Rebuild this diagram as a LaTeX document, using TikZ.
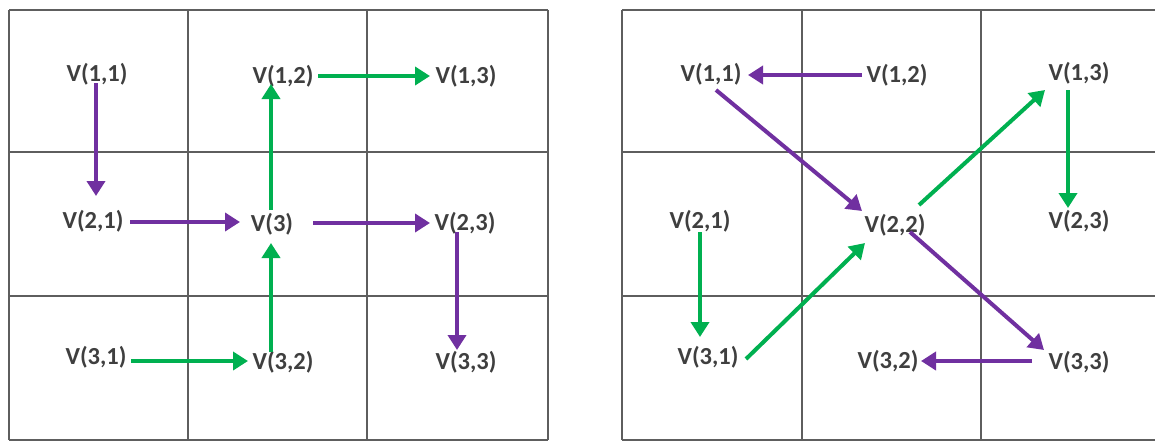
\documentclass[tikz,border=0pt]{standalone}
\usepackage{fontspec}
\setmainfont{Carlito}
\usetikzlibrary{calc,arrows.meta}
\definecolor{pur}{HTML}{7030A0}
\definecolor{grn}{HTML}{00B050}
\definecolor{gridc}{HTML}{5E5E5E}
\definecolor{txt}{HTML}{3F3F3F}
\begin{document}
\begin{tikzpicture}[x=1pt,y=-1pt,
  lbl/.style={inner sep=0pt,text height=17pt,text depth=5pt,font=\fontsize{24.5}{28}\selectfont\bfseries,text=txt},
  gridline/.style={draw=gridc,line width=2.5pt},
  parrow/.style={draw=pur,line width=4pt,-{Triangle[length=15pt,width=18pt]}},
  garrow/.style={draw=grn,line width=4pt,-{Triangle[length=15pt,width=18pt]}}]
\useasboundingbox (0,0) rectangle (1155,442);
% left grid
\foreach \x in {9,188,367,548} \draw[gridline] (\x,10) -- (\x,440);
\foreach \y in {10,152,296,440} \draw[gridline] (9,\y) -- (548,\y);
% right grid
\foreach \x in {622,802,981} \draw[gridline] (\x,10) -- (\x,440);
\foreach \y in {10,152,296,440} \draw[gridline] (622,\y) -- (1156,\y);
% left nodes
\node[lbl] (a11) at (97,75) {V(1,1)};
\node[lbl] (a12) at (283,77) {V(1,2)};
\node[lbl] (a13) at (466,77) {V(1,3)};
\node[lbl] (a21) at (93,222) {V(2,1)};
\node[lbl] (a3)  at (272,225) {V(3)};
\node[lbl] (a23) at (465,224) {V(2,3)};
\node[lbl] (a31) at (96,358) {V(3,1)};
\node[lbl] (a32) at (283,363) {V(3,2)};
\node[lbl] (a33) at (466,363) {V(3,3)};
% left arrows
\draw[parrow] ($(a11)+(-1,8)$) -- ($(a21)+(3,-26)$);
\draw[parrow] ($(a21)+(37,0)$) -- ($(a3)+(-32,-3)$);
\draw[parrow] ($(a3)+(41,-2)$) -- ($(a23)+(-35,-1)$);
\draw[parrow] ($(a23)+(-8,8)$) -- ($(a33)+(-9,-13)$);
\draw[garrow] ($(a32)+(-12,-11)$) -- ($(a3)+(-1,18)$);
\draw[garrow] ($(a3)+(-1,-15)$) -- ($(a12)+(-12,7)$);
\draw[garrow] ($(a12)+(35,-1)$) -- ($(a13)+(-36,-1)$);
\draw[garrow] ($(a31)+(35,3)$) -- ($(a32)+(-35,-2)$);
% right nodes
\node[lbl] (b11) at (711,75) {V(1,1)};
\node[lbl] (b12) at (897,76) {V(1,2)};
\node[lbl] (b13) at (1079,74) {V(1,3)};
\node[lbl] (b21) at (700,222) {V(2,1)};
\node[lbl] (b22) at (895,226) {V(2,2)};
\node[lbl] (b23) at (1079,222) {V(2,3)};
\node[lbl] (b31) at (708,358) {V(3,1)};
\node[lbl] (b32) at (888,362) {V(3,2)};
\node[lbl] (b33) at (1079,363) {V(3,3)};
% right arrows
\draw[parrow] ($(b12)+(-35,-1)$) -- ($(b11)+(37,0)$);
\draw[parrow] ($(b11)+(5,15)$) -- ($(b22)+(-33,-15)$);
\draw[garrow] ($(b22)+(24,-21)$) -- ($(b13)+(-34,16)$);
\draw[garrow] ($(b13)+(-11,16)$) -- ($(b23)+(-11,-14)$);
\draw[garrow] ($(b21)+(0,10)$) -- ($(b31)+(-8,-21)$);
\draw[garrow] ($(b31)+(38,1)$) -- ($(b22)+(-30,17)$);
\draw[parrow] ($(b22)+(15,6)$) -- ($(b33)+(-35,-13)$);
\draw[parrow] ($(b33)+(-47,-2)$) -- ($(b32)+(33,-1)$);
\end{tikzpicture}
\end{document}
